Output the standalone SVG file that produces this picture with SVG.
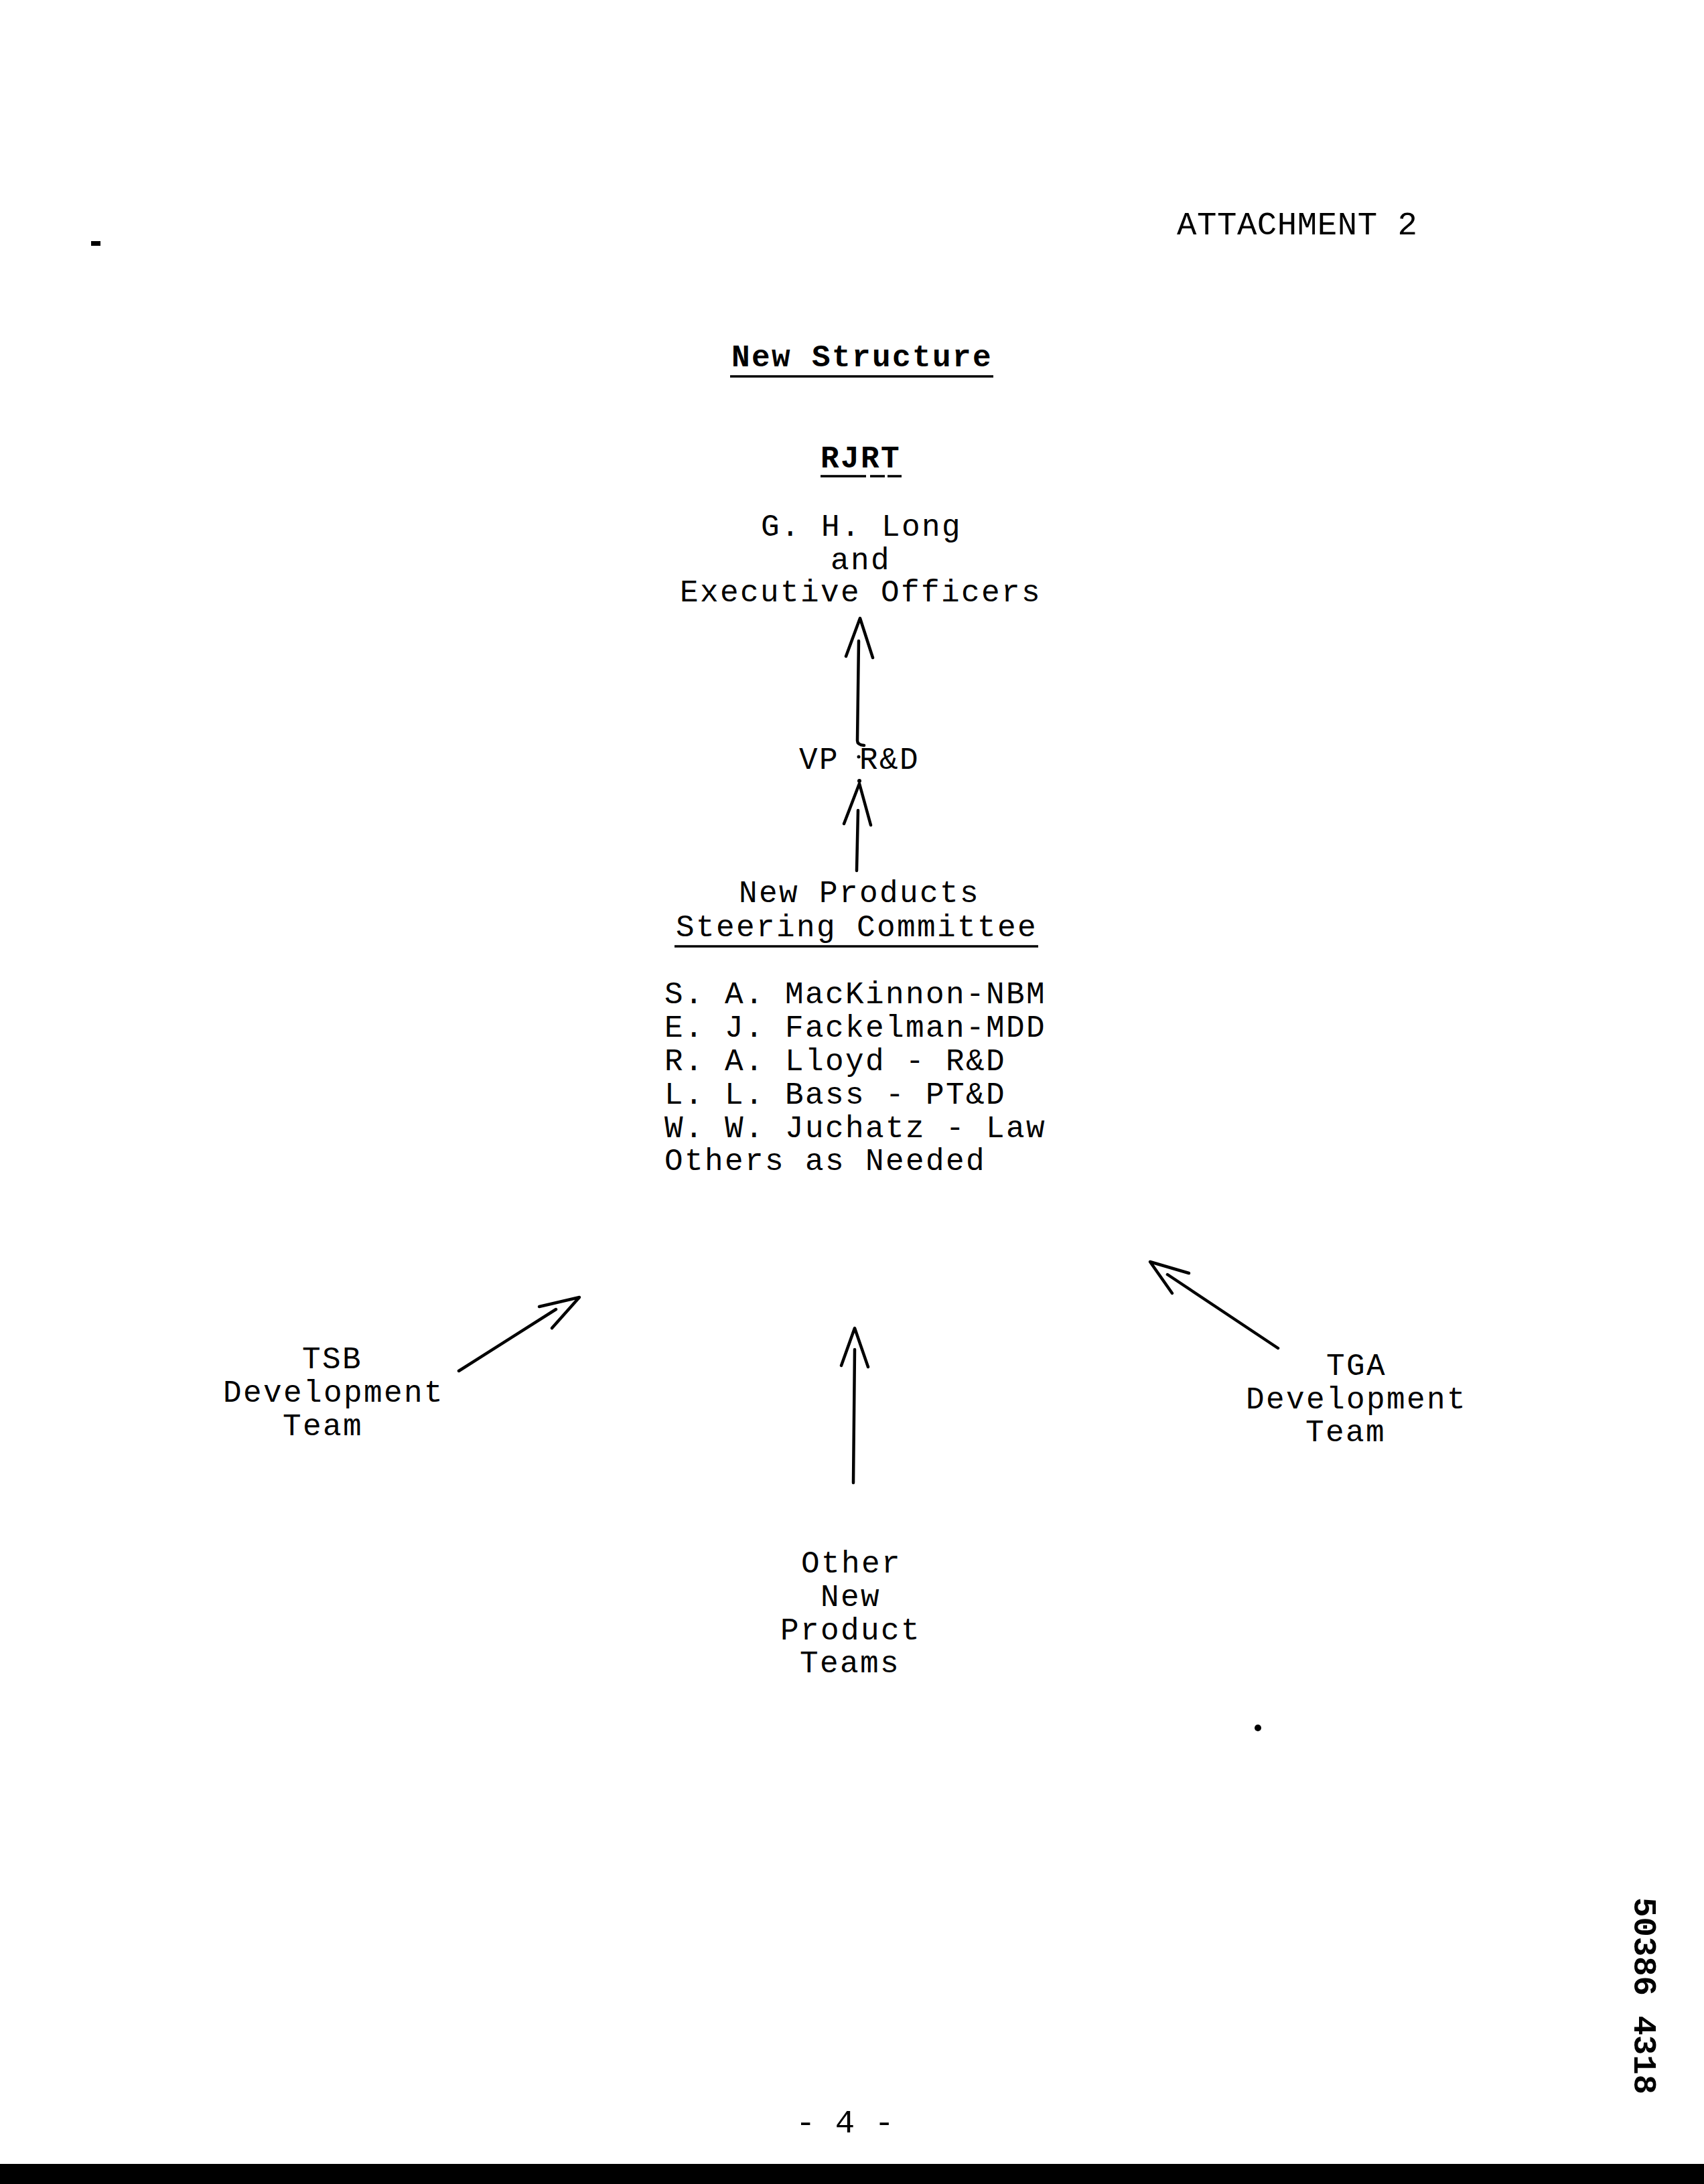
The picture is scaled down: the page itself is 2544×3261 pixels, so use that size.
<svg xmlns="http://www.w3.org/2000/svg" width="2544" height="3261" viewBox="0 0 2544 3261">
<style>
text{font-family:"Liberation Mono","DejaVu Sans Mono",monospace;fill:#000;font-size:46px;letter-spacing:2.4px}
.b{font-weight:bold}
.big{font-size:49px;letter-spacing:0}
.ln{fill:none;stroke:#000;stroke-width:4.5;stroke-linecap:round;stroke-linejoin:round}
.ul{stroke:#000;stroke-width:3.5}
</style>
<rect x="0" y="0" width="2544" height="3261" fill="#fff"/>

<g id="header">
<text class="big" x="1757" y="350" textLength="359" lengthAdjust="spacing">ATTACHMENT 2</text>
</g>

<g id="title">
<text class="b" x="1092" y="547">New Structure</text>
<line class="ul" x1="1090" y1="562" x2="1483" y2="562"/>
</g>

<g id="rjrt">
<text class="b" x="1225" y="698">RJRT</text>
<path class="ul" d="M1225 711H1293M1299 711H1321M1325 711H1346"/>
<text x="1136" y="800">G. H. Long</text>
<text x="1240" y="850">and</text>
<text x="1015" y="898">Executive Officers</text>
</g>

<g id="vp-rd">
<text x="1193" y="1148">VP R&amp;D</text>
</g>

<g id="steering-committee">
<text x="1103" y="1347">New Products</text>
<text x="1009" y="1398">Steering Committee</text>
<line class="ul" x1="1007" y1="1413" x2="1550" y2="1413"/>
<text x="992" y="1498">S. A. MacKinnon-NBM</text>
<text x="992" y="1548">E. J. Fackelman-MDD</text>
<text x="992" y="1598">R. A. Lloyd - R&amp;D</text>
<text x="992" y="1648">L. L. Bass - PT&amp;D</text>
<text x="992" y="1698">W. W. Juchatz - Law</text>
<text x="992" y="1747">Others as Needed</text>
</g>

<g id="tsb-team">
<text x="451" y="2043">TSB</text>
<text x="333" y="2093">Development</text>
<text x="422" y="2143">Team</text>
</g>

<g id="tga-team">
<text x="1980" y="2053">TGA</text>
<text x="1860" y="2103">Development</text>
<text x="1949" y="2152">Team</text>
</g>

<g id="other-teams">
<text x="1196" y="2348">Other</text>
<text x="1225" y="2398">New</text>
<text x="1165" y="2448">Product</text>
<text x="1194" y="2497">Teams</text>
</g>

<g id="connectors">
<!-- VP R&D -> Executive Officers -->
<path class="ln" d="M1263 980L1284 923L1303 982"/>
<path class="ln" d="M1282 957L1280 1106Q1280 1112 1290 1113"/>
<circle cx="1282" cy="1130" r="2.5"/>
<!-- Steering Committee -> VP R&D -->
<path class="ln" d="M1260 1230L1283 1170L1300 1232"/>
<path class="ln" d="M1281 1210L1279 1300"/>
<circle cx="1283" cy="1166" r="3"/>
<!-- TSB -> Steering Committee -->
<path class="ln" d="M805 1951L865 1937L824 1983"/>
<path class="ln" d="M685 2047L830 1955"/>
<!-- TGA -> Steering Committee -->
<path class="ln" d="M1775 1901L1717 1884L1750 1931"/>
<path class="ln" d="M1908 2013L1743 1903"/>
<!-- Other teams -> Steering Committee -->
<path class="ln" d="M1256 2039L1276 1983L1296 2041"/>
<path class="ln" d="M1276 2015L1274 2214"/>
</g>

<g id="page-marks">
<text class="b big" transform="translate(2440,2833) rotate(90)">50386 4318</text>
<text class="big" x="1188" y="3184">- 4 -</text>
<rect x="0" y="3231" width="2544" height="30" fill="#000"/>
<circle cx="1878" cy="2580" r="5"/>
<rect x="136" y="360" width="14" height="7"/>
</g>
</svg>
